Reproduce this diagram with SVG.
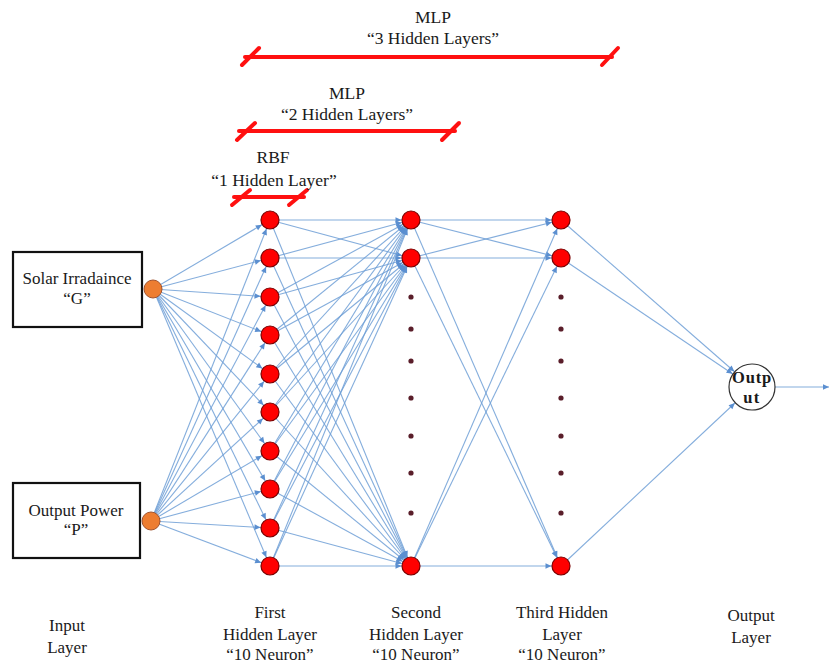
<svg xmlns="http://www.w3.org/2000/svg" width="838" height="665" viewBox="0 0 838 665">
  <style>
    text { font-family: "Liberation Serif", "Times New Roman", serif; fill: #1a1a1a; text-anchor: middle; }
    .lbl { font-size: 17px; }
    .top { font-size: 17.5px; }
    .ot { font-size: 16.5px; font-weight: bold; }
    .box { fill: #ffffff; stroke: #111111; stroke-width: 2.2; }
    .in { fill: #ed7d31; stroke: #a0522d; stroke-width: 1; }
    .hid { fill: #ff0000; stroke: #7a0000; stroke-width: 1.2; }
    .dot { fill: #5a1e2a; }
    .bar { stroke: #ff1010; stroke-width: 4; stroke-linecap: round; fill: none; }
    .c line { stroke: #6f9fd6; stroke-width: 1.1; stroke-opacity: 0.85; }
    .c .n { marker-end: url(#ah); }
    .c .o { marker-end: url(#ao); }
    .c .e { marker-end: url(#ae); }
  </style>
  <defs>
    <marker id="ah" markerUnits="userSpaceOnUse" markerWidth="20" markerHeight="10" refX="9.5" refY="0" orient="auto" overflow="visible">
      <path d="M0,0 L-6,-2.8 L-6,2.8 z" fill="#5b8fd0"/>
    </marker>
    <marker id="ao" markerUnits="userSpaceOnUse" markerWidth="20" markerHeight="10" refX="23.5" refY="0" orient="auto" overflow="visible">
      <path d="M0,0 L-6,-2.8 L-6,2.8 z" fill="#5b8fd0"/>
    </marker>
    <marker id="ae" markerUnits="userSpaceOnUse" markerWidth="20" markerHeight="10" refX="0" refY="0" orient="auto" overflow="visible">
      <path d="M0,0 L-6,-2.8 L-6,2.8 z" fill="#5b8fd0"/>
    </marker>
  </defs>

  <!-- model span brackets -->
  <g id="span-mlp3">
    <line class="bar" x1="245" y1="57" x2="612" y2="57"/>
    <line class="bar" x1="242" y1="65" x2="259" y2="48"/>
    <line class="bar" x1="602" y1="65" x2="618" y2="48"/>
    <text class="top" x="433" y="23">MLP</text>
    <text class="top" x="433" y="44">“3 Hidden Layers”</text>
  </g>
  <g id="span-mlp2">
    <line class="bar" x1="239" y1="131" x2="455" y2="131"/>
    <line class="bar" x1="237" y1="140" x2="255" y2="123"/>
    <line class="bar" x1="442" y1="140" x2="459" y2="123"/>
    <text class="top" x="347" y="99">MLP</text>
    <text class="top" x="347" y="120">“2 Hidden Layers”</text>
  </g>
  <g id="span-rbf">
    <line class="bar" x1="234" y1="197" x2="304" y2="197"/>
    <line class="bar" x1="232" y1="205" x2="250" y2="190"/>
    <line class="bar" x1="289" y1="205" x2="307" y2="190"/>
    <text class="top" x="273" y="163">RBF</text>
    <text class="top" x="274" y="186">“1 Hidden Layer”</text>
  </g>

  <!-- connectors -->
  <g id="connectors" class="c">
    <!-- input G to first hidden layer -->
    <line class="n" x1="153" y1="289" x2="270" y2="220"/>
    <line class="n" x1="153" y1="289" x2="270" y2="258"/>
    <line class="n" x1="153" y1="289" x2="270" y2="297"/>
    <line class="n" x1="153" y1="289" x2="270" y2="335"/>
    <line class="n" x1="153" y1="289" x2="270" y2="374"/>
    <line class="n" x1="153" y1="289" x2="270" y2="412"/>
    <line class="n" x1="153" y1="289" x2="270" y2="451"/>
    <line class="n" x1="153" y1="289" x2="270" y2="489"/>
    <line class="n" x1="153" y1="289" x2="270" y2="528"/>
    <line class="n" x1="153" y1="289" x2="270" y2="566"/>
    <!-- input P to first hidden layer -->
    <line class="n" x1="151" y1="521" x2="270" y2="220"/>
    <line class="n" x1="151" y1="521" x2="270" y2="258"/>
    <line class="n" x1="151" y1="521" x2="270" y2="297"/>
    <line class="n" x1="151" y1="521" x2="270" y2="335"/>
    <line class="n" x1="151" y1="521" x2="270" y2="374"/>
    <line class="n" x1="151" y1="521" x2="270" y2="412"/>
    <line class="n" x1="151" y1="521" x2="270" y2="451"/>
    <line class="n" x1="151" y1="521" x2="270" y2="489"/>
    <line class="n" x1="151" y1="521" x2="270" y2="528"/>
    <line class="n" x1="151" y1="521" x2="270" y2="566"/>
    <!-- first to second hidden layer -->
    <line class="n" x1="270" y1="220" x2="411" y2="220"/>
    <line class="n" x1="270" y1="220" x2="411" y2="258"/>
    <line class="n" x1="270" y1="220" x2="411" y2="566"/>
    <line class="n" x1="270" y1="258" x2="411" y2="220"/>
    <line class="n" x1="270" y1="258" x2="411" y2="258"/>
    <line class="n" x1="270" y1="258" x2="411" y2="566"/>
    <line class="n" x1="270" y1="297" x2="411" y2="220"/>
    <line class="n" x1="270" y1="297" x2="411" y2="258"/>
    <line class="n" x1="270" y1="297" x2="411" y2="566"/>
    <line class="n" x1="270" y1="335" x2="411" y2="220"/>
    <line class="n" x1="270" y1="335" x2="411" y2="258"/>
    <line class="n" x1="270" y1="335" x2="411" y2="566"/>
    <line class="n" x1="270" y1="374" x2="411" y2="220"/>
    <line class="n" x1="270" y1="374" x2="411" y2="258"/>
    <line class="n" x1="270" y1="374" x2="411" y2="566"/>
    <line class="n" x1="270" y1="412" x2="411" y2="220"/>
    <line class="n" x1="270" y1="412" x2="411" y2="258"/>
    <line class="n" x1="270" y1="412" x2="411" y2="566"/>
    <line class="n" x1="270" y1="451" x2="411" y2="220"/>
    <line class="n" x1="270" y1="451" x2="411" y2="258"/>
    <line class="n" x1="270" y1="451" x2="411" y2="566"/>
    <line class="n" x1="270" y1="489" x2="411" y2="220"/>
    <line class="n" x1="270" y1="489" x2="411" y2="258"/>
    <line class="n" x1="270" y1="489" x2="411" y2="566"/>
    <line class="n" x1="270" y1="528" x2="411" y2="220"/>
    <line class="n" x1="270" y1="528" x2="411" y2="258"/>
    <line class="n" x1="270" y1="528" x2="411" y2="566"/>
    <line class="n" x1="270" y1="566" x2="411" y2="220"/>
    <line class="n" x1="270" y1="566" x2="411" y2="258"/>
    <line class="n" x1="270" y1="566" x2="411" y2="566"/>
    <!-- second to third hidden layer -->
    <line class="n" x1="411" y1="220" x2="561" y2="220"/>
    <line class="n" x1="411" y1="220" x2="561" y2="258"/>
    <line class="n" x1="411" y1="220" x2="561" y2="566"/>
    <line class="n" x1="411" y1="258" x2="561" y2="220"/>
    <line class="n" x1="411" y1="258" x2="561" y2="258"/>
    <line class="n" x1="411" y1="258" x2="561" y2="566"/>
    <line class="n" x1="411" y1="566" x2="561" y2="220"/>
    <line class="n" x1="411" y1="566" x2="561" y2="258"/>
    <line class="n" x1="411" y1="566" x2="561" y2="566"/>
    <!-- third hidden layer to output -->
    <line class="o" x1="561" y1="220" x2="752" y2="387"/>
    <line class="o" x1="561" y1="258" x2="752" y2="387"/>
    <line class="o" x1="561" y1="566" x2="752" y2="387"/>
    <!-- output signal -->
    <line class="e" x1="775" y1="387" x2="829" y2="387"/>
  </g>

  <!-- input layer -->
  <g id="input-g">
    <rect class="box" x="13" y="252" width="129" height="75"/>
    <text class="lbl" x="77" y="284">Solar Irradaince</text>
    <text class="lbl" x="77" y="304">“G”</text>
    <circle class="in" cx="153" cy="289" r="9"/>
  </g>
  <g id="input-p">
    <rect class="box" x="13" y="483" width="127" height="75"/>
    <text class="lbl" x="76" y="516">Output Power</text>
    <text class="lbl" x="76" y="535">“P”</text>
    <circle class="in" cx="151" cy="521" r="9"/>
  </g>

  <!-- first hidden layer -->
  <g id="hidden-1">
    <circle class="hid" cx="270" cy="220" r="9"/>
    <circle class="hid" cx="270" cy="258" r="9"/>
    <circle class="hid" cx="270" cy="297" r="9"/>
    <circle class="hid" cx="270" cy="335" r="9"/>
    <circle class="hid" cx="270" cy="374" r="9"/>
    <circle class="hid" cx="270" cy="412" r="9"/>
    <circle class="hid" cx="270" cy="451" r="9"/>
    <circle class="hid" cx="270" cy="489" r="9"/>
    <circle class="hid" cx="270" cy="528" r="9"/>
    <circle class="hid" cx="270" cy="566" r="9"/>
  </g>

  <!-- second hidden layer -->
  <g id="hidden-2">
    <circle class="hid" cx="411" cy="220" r="9"/>
    <circle class="hid" cx="411" cy="258" r="9"/>
    <circle class="dot" cx="411" cy="297" r="2.6"/>
    <circle class="dot" cx="411" cy="329" r="2.6"/>
    <circle class="dot" cx="411" cy="361" r="2.6"/>
    <circle class="dot" cx="411" cy="398" r="2.6"/>
    <circle class="dot" cx="411" cy="436" r="2.6"/>
    <circle class="dot" cx="411" cy="473" r="2.6"/>
    <circle class="dot" cx="411" cy="513" r="2.6"/>
    <circle class="hid" cx="411" cy="566" r="9"/>
  </g>

  <!-- third hidden layer -->
  <g id="hidden-3">
    <circle class="hid" cx="561" cy="220" r="9"/>
    <circle class="hid" cx="561" cy="258" r="9"/>
    <circle class="dot" cx="561" cy="297" r="2.6"/>
    <circle class="dot" cx="561" cy="329" r="2.6"/>
    <circle class="dot" cx="561" cy="361" r="2.6"/>
    <circle class="dot" cx="561" cy="398" r="2.6"/>
    <circle class="dot" cx="561" cy="436" r="2.6"/>
    <circle class="dot" cx="561" cy="473" r="2.6"/>
    <circle class="dot" cx="561" cy="513" r="2.6"/>
    <circle class="hid" cx="561" cy="566" r="9"/>
  </g>

  <!-- output node -->
  <g id="output">
    <circle cx="752" cy="387" r="23" fill="#ffffff" stroke="#333333" stroke-width="1.2"/>
    <text class="ot" x="752" y="383" style="letter-spacing:0.8px">Outp</text>
    <text class="ot" x="752" y="403" style="letter-spacing:1.5px">ut</text>
  </g>

  <!-- layer captions -->
  <g id="captions">
    <text class="lbl" x="67" y="631">Input</text>
    <text class="lbl" x="67" y="653">Layer</text>
    <text class="lbl" x="270" y="618">First</text>
    <text class="lbl" x="270" y="640">Hidden Layer</text>
    <text class="lbl" x="270" y="660">“10 Neuron”</text>
    <text class="lbl" x="416" y="618">Second</text>
    <text class="lbl" x="416" y="640">Hidden Layer</text>
    <text class="lbl" x="416" y="660">“10 Neuron”</text>
    <text class="lbl" x="562" y="618">Third  Hidden</text>
    <text class="lbl" x="562" y="640">Layer</text>
    <text class="lbl" x="562" y="660">“10 Neuron”</text>
    <text class="lbl" x="751" y="621">Output</text>
    <text class="lbl" x="751" y="643">Layer</text>
  </g>
</svg>
